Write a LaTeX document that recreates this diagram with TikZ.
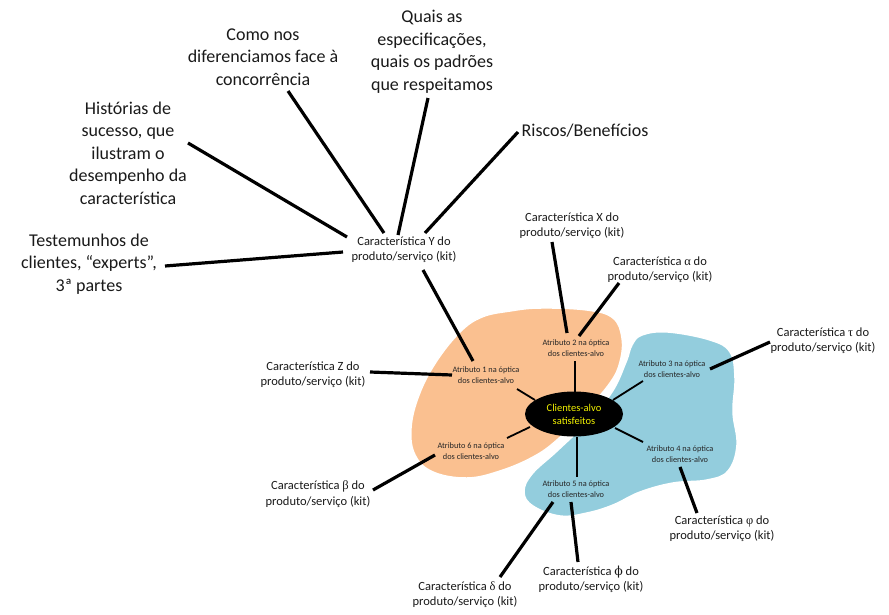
\documentclass[tikz,border=0pt]{standalone}
\usepackage{fontspec}
\setmainfont{Carlito}
\newfontfamily\grk{Liberation Serif}
\newfontfamily\grkb{DejaVu Serif}
\usetikzlibrary{shapes.geometric}
\definecolor{peach}{HTML}{FAC090}
\definecolor{aqua}{HTML}{93CDDD}
\definecolor{lbl}{HTML}{1A1A1A}
\definecolor{clyellow}{HTML}{F2F200}
\begin{document}
\begin{tikzpicture}[x=1pt,y=-1pt,
  big/.style={font=\fontsize{18}{22.5}\selectfont, align=center, inner sep=0pt, text=lbl},
  mid/.style={font=\fontsize{12.5}{15.3}\selectfont, align=center, inner sep=0pt, text=lbl},
  attr/.style={font=\fontsize{8.3}{10.5}\selectfont, align=center, inner sep=0pt, text=black!85},
  con/.style={line width=3.2pt, black},
  spoke/.style={line width=1.8pt, black},
  blob/.style={draw=white, line width=1.5pt}]
\useasboundingbox (0,0) rectangle (889,614);
\fill[white] (0,0) rectangle (889,614);

% blobs
\filldraw[blob, fill=peach] plot[smooth cycle, tension=0.65] coordinates {
  (540,308) (587,310) (613,318) (622,338) (620,362) (610,383) (585,412) (557,440)
  (533,457) (500,471) (467,478) (433,472) (415,455) (411,428) (419,395) (436,362)
  (460,332) (482,317) (510,311)};
\filldraw[blob, fill=aqua] plot[smooth cycle, tension=0.65] coordinates {
  (642,335) (668,332) (710,340) (730,352) (735,378) (733,412) (737,445) (728,471)
  (707,480) (673,483) (640,492) (613,505) (587,513) (560,516) (533,506) (524,492)
  (532,474) (557,451) (587,422) (612,392) (626,362) (632,345)};

% text nodes
\node[big] (como) at (263,57) {Como nos\\diferenciamos face à\\concorrência};
\node[big] (quais) at (432,52) {Quais as\\especificações,\\quais os padrões\\que respeitamos};
\node[big] (hist) at (128,153) {Histórias de\\sucesso, que\\ilustram o\\desempenho da\\característica};
\node[big] (test) at (89,264) {Testemunhos de\\clientes, “experts”,\\3ª partes};
\node[big] (riscos) at (585,131) {Riscos/Benefícios};

\node[mid] (Y) at (404,250) {Característica Y do\\produto/serviço (kit)};
\node[mid] (X) at (572,226) {Característica X do\\produto/serviço (kit)};
\node[mid] (alpha) at (660,270) {Característica {\grk α} do\\produto/serviço (kit)};
\node[mid] (tau) at (823,341) {Característica {\grk τ} do\\produto/serviço (kit)};
\node[mid] (Z) at (313,375) {Característica Z do\\produto/serviço (kit)};
\node[mid] (beta) at (318,494) {Característica {\grk β} do\\produto/serviço (kit)};
\node[mid] (phi) at (722,529) {Característica {\grk φ} do\\produto/serviço (kit)};
\node[mid] (phib) at (591,579) {Característica {\grkb ϕ} do\\produto/serviço (kit)};
\node[mid] (delta) at (465,595) {Característica {\grk δ} do\\produto/serviço (kit)};

\node[attr] (a1) at (486,375) {Atributo 1 na óptica\\dos clientes-alvo};
\node[attr] (a2) at (576,348) {Atributo 2 na óptica\\dos clientes-alvo};
\node[attr] (a3) at (672,369) {Atributo 3 na óptica\\dos clientes-alvo};
\node[attr] (a4) at (680,454) {Atributo 4 na óptica\\dos clientes-alvo};
\node[attr] (a5) at (576,489) {Atributo 5 na óptica\\dos clientes-alvo};
\node[attr] (a6) at (471,451) {Atributo 6 na óptica\\dos clientes-alvo};

\node[ellipse, fill=black, minimum width=98pt, minimum height=45pt, inner sep=0pt,
  text=clyellow, font=\fontsize{10.5}{13}\selectfont, align=center] (ell) at (574,414)
  {Clientes-alvo\\satisfeitos};

% connectors to Y
\draw[con] ([shift={(60,-10)}]hist.center) -- ([shift={(-57,-13)}]Y.center);
\draw[con] ([shift={(25,34)}]como.center) -- ([shift={(-20,-17)}]Y.center);
\draw[con] ([shift={(-4,46)}]quais.center) -- ([shift={(-6,-15)}]Y.center);
\draw[con] ([shift={(-67,1)}]riscos.center) -- ([shift={(21,-17)}]Y.center);
\draw[con] ([shift={(76,2)}]test.center) -- ([shift={(-61,2)}]Y.center);
\draw[con] ([shift={(19,20)}]Y.center) -- ([shift={(-13,-14)}]a1.center);

% characteristic connectors
\draw[con] ([shift={(-20,16)}]X.center) -- ([shift={(-9,-15)}]a2.center);
\draw[con] ([shift={(-41,13)}]alpha.center) -- ([shift={(3,-12)}]a2.center);
\draw[con] ([shift={(-53,1)}]tau.center) -- ([shift={(38,0)}]a3.center);
\draw[con] ([shift={(57,-3)}]Z.center) -- ([shift={(-34,0)}]a1.center);
\draw[con] ([shift={(55,-4)}]beta.center) -- ([shift={(-36,4)}]a6.center);
\draw[con] ([shift={(0,13)}]a4.center) -- ([shift={(-25,-16)}]phi.center);
\draw[con] ([shift={(-23,13)}]a5.center) -- ([shift={(35,-18)}]delta.center);
\draw[con] ([shift={(-5,13)}]a5.center) -- ([shift={(-13,-17)}]phib.center);

% spokes from ellipse
\draw[spoke] ([shift={(-39,-14)}]ell.center) -- ([shift={(31,14)}]a1.center);
\draw[spoke] ([shift={(1,-22)}]ell.center) -- ([shift={(-1,13)}]a2.center);
\draw[spoke] ([shift={(39,-14)}]ell.center) -- ([shift={(-29,12)}]a3.center);
\draw[spoke] ([shift={(41,14)}]ell.center) -- ([shift={(-37,-12)}]a4.center);
\draw[spoke] ([shift={(3,23)}]ell.center) -- ([shift={(1,-12)}]a5.center);
\draw[spoke] ([shift={(-44,13)}]ell.center) -- ([shift={(36,-13)}]a6.center);
\end{tikzpicture}
\end{document}
